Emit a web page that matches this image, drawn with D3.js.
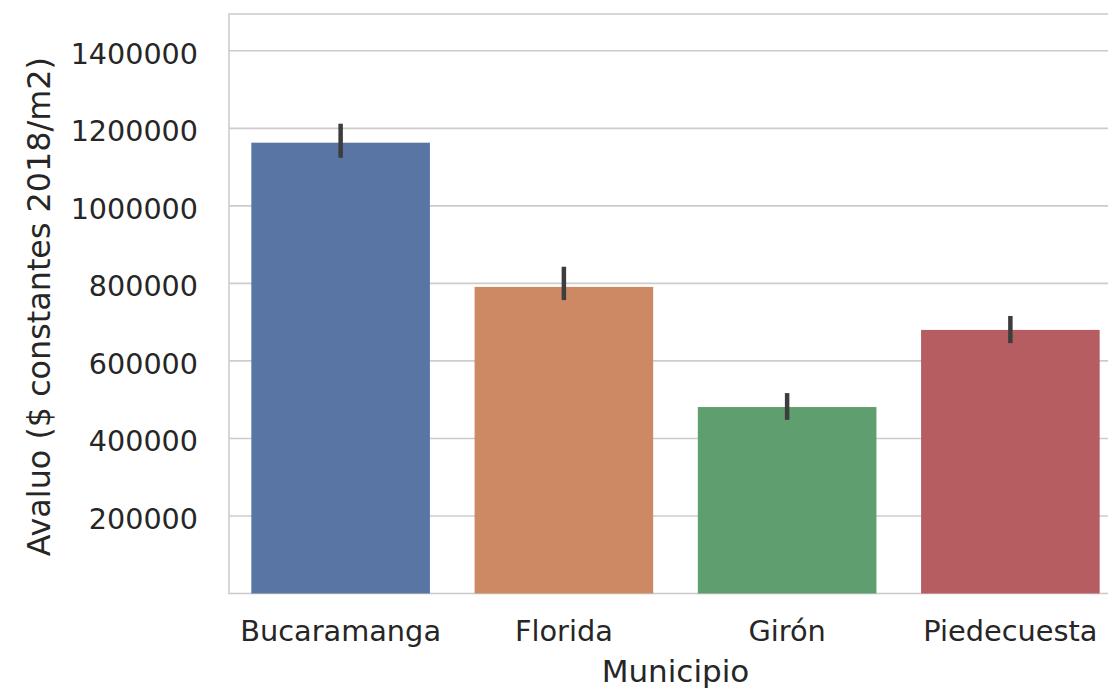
<!DOCTYPE html>
<html>
<head>
<meta charset="utf-8">
<script src="https://cdn.jsdelivr.net/npm/d3@7"></script>
<style>
  html, body { margin: 0; padding: 0; background: #ffffff; }
  svg { display: block; }
  text { font-family: "DejaVu Sans", sans-serif; fill: #262626; }
</style>
</head>
<body>
<svg id="chart" width="1108" height="690"></svg>
<script>
const categories = ["Bucaramanga", "Florida", "Girón", "Piedecuesta"];
const values = [1163000, 791000, 481000, 680000];
const ciLow = [1124000, 757000, 448000, 646000];
const ciHigh = [1212000, 843000, 517000, 716000];
const yTicks = [200000, 400000, 600000, 800000, 1000000, 1200000, 1400000];
const colors = ["#5875a4", "#cc8963", "#5f9e6e", "#b55d60"];
const xLabel = "Municipio";
const yLabel = "Avaluo ($ constantes 2018/m2)";

const svg = d3.select("#chart");
const plotLeft = 229, plotRight = 1122, plotTop = 14, plotBottom = 593.5;

const x = d3.scaleBand().domain(categories).range([plotLeft, plotRight])
  .paddingInner(0.2).paddingOuter(0.1);
const y = d3.scaleLinear().domain([0, 1495000]).range([plotBottom, plotTop]);

// gridlines
svg.append("g").selectAll("line").data(yTicks).join("line")
  .attr("x1", plotLeft).attr("x2", plotRight)
  .attr("y1", d => y(d)).attr("y2", d => y(d))
  .attr("stroke", "#cccccc").attr("stroke-width", 1.6);

// spines
svg.append("rect").attr("x", plotLeft).attr("y", plotTop)
  .attr("width", plotRight - plotLeft).attr("height", plotBottom - plotTop)
  .attr("fill", "none").attr("stroke", "#cccccc").attr("stroke-width", 1.6);

// bars
svg.append("g").selectAll("rect").data(categories).join("rect")
  .attr("x", d => x(d)).attr("width", x.bandwidth())
  .attr("y", (d, i) => y(values[i]))
  .attr("height", (d, i) => y(0) - y(values[i]))
  .attr("fill", (d, i) => colors[i]);

// error bars
svg.append("g").selectAll("line").data(categories).join("line")
  .attr("x1", d => x(d) + x.bandwidth() / 2)
  .attr("x2", d => x(d) + x.bandwidth() / 2)
  .attr("y1", (d, i) => y(ciLow[i]))
  .attr("y2", (d, i) => y(ciHigh[i]))
  .attr("stroke", "#3d3d3d").attr("stroke-width", 4.5);

// y tick labels
svg.append("g").selectAll("text").data(yTicks).join("text")
  .attr("x", 198).attr("y", d => y(d) + 13)
  .attr("text-anchor", "end").attr("font-size", 28.6)
  .text(d => d3.format("d")(d));

// x tick labels
svg.append("g").selectAll("text").data(categories).join("text")
  .attr("x", d => x(d) + x.bandwidth() / 2).attr("y", 641)
  .attr("text-anchor", "middle").attr("font-size", 28.8)
  .text(d => d);

// axis labels
svg.append("text").attr("x", (plotLeft + plotRight) / 2).attr("y", 682)
  .attr("text-anchor", "middle").attr("font-size", 31).text(xLabel);
svg.append("text")
  .attr("transform", `translate(50,${(plotTop + plotBottom) / 2 + 3}) rotate(-90)`)
  .attr("text-anchor", "middle").attr("font-size", 31.8).text(yLabel);
</script>
</body>
</html>
